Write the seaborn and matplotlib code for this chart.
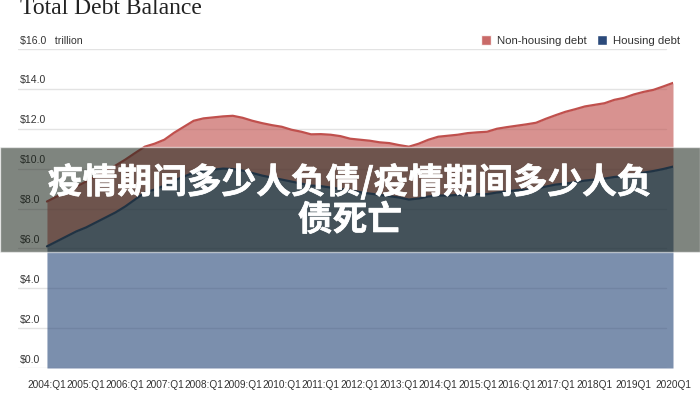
import numpy as np
import pandas as pd
import matplotlib.pyplot as plt
import matplotlib.patheffects as pe
import seaborn as sns
from matplotlib.patches import Patch, Rectangle

sns.set_style('white')
plt.rcParams['font.family'] = ['Liberation Sans', 'Noto Sans CJK SC', 'DejaVu Sans']

# quarterly balances, 2004:Q1 .. 2020:Q1, trillions of dollars
housing = [6.10, 6.35, 6.60, 6.85, 7.05, 7.30, 7.55, 7.80, 8.10, 8.45,
           8.80, 8.95, 9.15, 9.40, 9.60, 9.80, 9.90, 9.95, 10.00, 9.98,
           9.90, 9.78, 9.65, 9.55, 9.45, 9.35, 9.25, 9.15, 9.12, 9.05,
           8.98, 8.90, 8.82, 8.75, 8.68, 8.62, 8.55, 8.45, 8.50, 8.60,
           8.65, 8.65, 8.68, 8.70, 8.72, 8.72, 8.80, 8.85, 8.92, 8.95,
           8.98, 9.10, 9.20, 9.25, 9.32, 9.40, 9.45, 9.50, 9.58, 9.62,
           9.72, 9.80, 9.88, 9.98, 10.10]
non_housing = [2.25, 2.25, 2.25, 2.25, 2.30, 2.32, 2.35, 2.35, 2.35, 2.33,
               2.30, 2.30, 2.30, 2.40, 2.50, 2.60, 2.62, 2.62, 2.62, 2.67,
               2.65, 2.62, 2.63, 2.63, 2.65, 2.60, 2.60, 2.57, 2.61, 2.65,
               2.65, 2.60, 2.63, 2.65, 2.64, 2.66, 2.63, 2.65, 2.75, 2.85,
               2.95, 3.00, 3.02, 3.08, 3.10, 3.13, 3.20, 3.23, 3.23, 3.27,
               3.32, 3.40, 3.48, 3.60, 3.66, 3.72, 3.75, 3.78, 3.87, 3.93,
               4.00, 4.05, 4.07, 4.14, 4.20]
tick_labels = ['2004:Q1', '2005:Q1', '2006:Q1', '2007:Q1', '2008:Q1', '2009:Q1',
               '2010:Q1', '2011:Q1', '2012:Q1', '2013:Q1', '2014:Q1', '2015:Q1',
               '2016:Q1', '2017:Q1', '2018Q1', '2019Q1', '2020Q1']
y_ticks = [0, 2, 4, 6, 8, 10, 12, 14, 16]

red = '#c0504d'
blue = '#2b4a7b'

q = np.arange(len(housing))
df = pd.DataFrame({'q': q, 'housing': housing, 'non_housing': non_housing})
df['total'] = df['housing'] + df['non_housing']

fig = plt.figure(figsize=(7, 4), dpi=100)
ax = fig.add_axes([18 / 700, 32 / 400, 655 / 700, 319 / 400])

for v in y_ticks:
    ax.axhline(v, xmin=0, xmax=0.99, color='#e3e3e3', lw=1, zorder=0)
    lab = '\\$%.1f' % v
    if v == 16:
        lab += '   trillion'
    ax.annotate(lab, xy=(0.003, v), xycoords=('axes fraction', 'data'),
                xytext=(0, 2.5), textcoords='offset points',
                fontsize=7.6, color='#333333', va='bottom', ha='left')

ax.stackplot(df['q'], df['housing'], df['non_housing'],
             colors=[blue, red], alpha=0.62, lw=0, zorder=1)
sns.lineplot(data=df, x='q', y='housing', color=blue, lw=1.6, ax=ax, zorder=2)
sns.lineplot(data=df, x='q', y='total', color=red, lw=1.6, ax=ax, zorder=2)

ax.set_xlim(-2.96, 64)
ax.set_ylim(0, 16)
ax.set_xticks(q[::4])
ax.set_xticklabels(tick_labels, fontsize=7.3, color='#333333')
ax.set_yticks([])
ax.tick_params(axis='x', length=0, pad=9)
ax.set_xlabel('')
ax.set_ylabel('')
sns.despine(ax=ax, left=True, bottom=True)

fig.text(20 / 700, 1 - 14 / 400, 'Total Debt Balance', family='Liberation Serif',
         fontsize=17, color='#222222', va='baseline', ha='left')

handles = [Patch(facecolor=red, alpha=0.85), Patch(facecolor=blue)]
fig.legend(handles, ['Non-housing debt', 'Housing debt'], ncol=2, frameon=False,
           loc='upper right', bbox_to_anchor=(690 / 700, 1 - 25 / 400),
           fontsize=8.2, handlelength=0.9, handleheight=0.9, handletextpad=0.5,
           columnspacing=0.9, labelcolor='#333333')

# dark banner with caption
fig.patches.append(Rectangle((0, 1 - 252 / 400), 1, 105 / 400, transform=fig.transFigure,
                             facecolor=(0.09, 0.13, 0.09), alpha=0.55, zorder=5))
thick = [pe.withStroke(linewidth=0.5, foreground='white')]
fig.text(0.5, 1 - 182 / 400, '疫情期间多少人负债/疫情期间多少人负', family=['Noto Sans CJK SC'],
         fontsize=25, weight='bold', color='white', ha='center', va='center', zorder=6,
         path_effects=thick)
fig.text(0.5, 1 - 220 / 400, '债死亡', family=['Noto Sans CJK SC'],
         fontsize=25, weight='bold', color='white', ha='center', va='center', zorder=6,
         path_effects=thick)

fig.savefig('out.png', dpi=100)
